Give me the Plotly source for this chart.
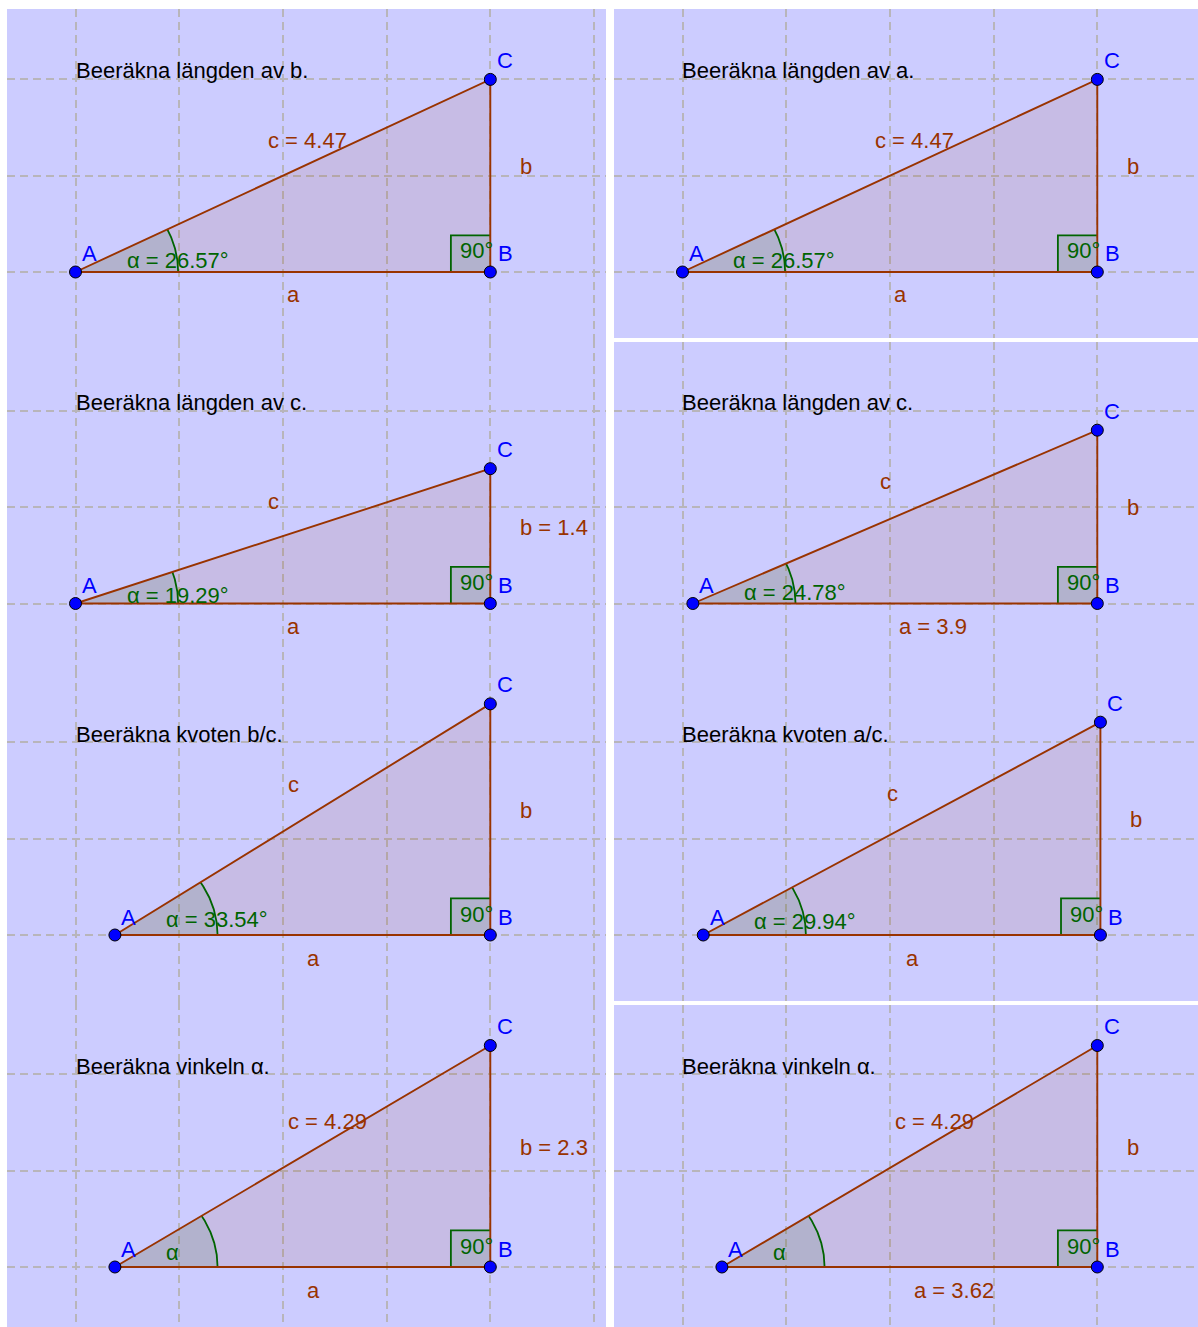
import numpy as np
import plotly.graph_objects as go

# ---------------- data (triangle measures, in grid units) ----------------
titles = ["Beeräkna längden av b.", "Beeräkna längden av c.", "Beeräkna kvoten b/c.",
          "Beeräkna vinkeln α.", "Beeräkna längden av a.", "Beeräkna längden av c.",
          "Beeräkna kvoten a/c.", "Beeräkna vinkeln α."]
b_vertex_x = [4, 4, 4, 4, 4, 4, 4.03, 4]          # x of vertex B
side_a = [4, 4, 3.62, 3.62, 4, 3.9, 3.83, 3.62]    # leg AB
side_b = [2, 1.4, 2.4, 2.3, 2, 1.8, 2.21, 2.3]     # leg BC
label_a = ["a", "a", "a", "a", "a", "a = 3.9", "a", "a = 3.62"]
label_b = ["b", "b = 1.4", "b", "b = 2.3", "b", "b", "b", "b"]
label_c = ["c = 4.47", "c", "c", "c = 4.29", "c = 4.47", "c", "c", "c = 4.29"]
label_alpha = ["α = 26.57°", "α = 19.29°", "α = 33.54°", "α",
               "α = 26.57°", "α = 24.78°", "α = 29.94°", "α"]
vertex_names = ["A", "B", "C"]
right_angle_text = "90°"

# ---------------- layout geometry (pixels) ----------------
W, H = 1198, 1327
PXX, PXY = 103.7, 96.3
col_left = (7, 606, 75.5)
col_right = (614, 1198, 682.5)
rows_left = [(9, 340, 272), (340, 670, 603.5), (670, 1002, 935), (1002, 1327, 1267)]
rows_right = [(9, 338, 272), (342, 670, 603.5), (670, 1001, 935), (1005, 1327, 1267)]
panels = [(col_left, r) for r in rows_left] + [(col_right, r) for r in rows_right]

BG = "#CCCCFF"
BROWN = "#993300"
GREEN = "#006400"
BLUE = "#0000FF"
FONT = "Liberation Sans, Arial, sans-serif"
FS = 22
ARC_R = 0.99
SQ = 0.38

fig = go.Figure()
layout = dict(width=W, height=H, margin=dict(l=0, r=0, t=0, b=0, pad=0),
              paper_bgcolor="white", plot_bgcolor=BG, showlegend=False,
              font=dict(family=FONT, size=FS))
annotations = []

for k, ((x0, x1, ox), (t, bm, oy)) in enumerate(panels, start=1):
    sfx = "" if k == 1 else str(k)
    xr, yr = "x" + sfx, "y" + sfx
    common = dict(showgrid=True, gridcolor="rgb(184,181,186)", gridwidth=1.6,
                  griddash="8px,5px",
                  dtick=1, tick0=0, zeroline=False, showticklabels=False, ticks="",
                  showline=False, fixedrange=True)
    layout["xaxis" + sfx] = dict(domain=[x0 / W, x1 / W],
                                 range=[(x0 - ox) / PXX, (x1 - ox) / PXX],
                                 anchor=yr, **common)
    layout["yaxis" + sfx] = dict(domain=[(H - bm) / H, (H - t) / H],
                                 range=[(oy - bm) / PXY, (oy - t) / PXY],
                                 anchor=xr, **common)

    i = k - 1
    bx = b_vertex_x[i]
    a = side_a[i]
    b = side_b[i]
    ax = bx - a
    theta = np.arctan2(b, a)
    px = [ax, bx, bx]
    py = [0, 0, b]

    # triangle fill
    fig.add_trace(go.Scatter(x=px + [ax], y=py + [0], xaxis=xr, yaxis=yr, mode="lines",
                             fill="toself", fillcolor="rgba(153,51,0,0.1)",
                             line=dict(width=0), hoverinfo="skip"))
    # angle sector
    ang = np.linspace(0, theta, 60)
    arcx = ax + ARC_R * np.cos(ang)
    arcy = ARC_R * np.sin(ang)
    fig.add_trace(go.Scatter(x=np.r_[ax, arcx, ax], y=np.r_[0, arcy, 0], xaxis=xr, yaxis=yr,
                             mode="lines", fill="toself", fillcolor="rgba(0,100,0,0.1)",
                             line=dict(width=0), hoverinfo="skip"))
    fig.add_trace(go.Scatter(x=arcx, y=arcy, xaxis=xr, yaxis=yr, mode="lines",
                             line=dict(color=GREEN, width=1.8), hoverinfo="skip"))
    # right angle square
    fig.add_trace(go.Scatter(x=[bx, bx - SQ, bx - SQ, bx, bx], y=[0, 0, SQ, SQ, 0],
                             xaxis=xr, yaxis=yr, mode="lines", fill="toself",
                             fillcolor="rgba(0,100,0,0.1)", line=dict(width=0),
                             hoverinfo="skip"))
    fig.add_trace(go.Scatter(x=[bx - SQ, bx - SQ, bx], y=[0, SQ, SQ], xaxis=xr, yaxis=yr,
                             mode="lines", line=dict(color=GREEN, width=1.8),
                             hoverinfo="skip"))
    # triangle edges
    fig.add_trace(go.Scatter(x=px + [ax], y=py + [0], xaxis=xr, yaxis=yr, mode="lines",
                             line=dict(color=BROWN, width=1.9), hoverinfo="skip"))
    # vertices
    fig.add_trace(go.Scatter(x=px, y=py, xaxis=xr, yaxis=yr, mode="markers",
                             marker=dict(size=12, color=BLUE, line=dict(color="black", width=1)),
                             hoverinfo="skip"))

    def ann(text, x, y, color, xanchor="left", xs=0, ys=0):
        annotations.append(dict(text=text, x=x, y=y, xref=xr, yref=yr, showarrow=False,
                                xanchor=xanchor, yanchor="middle", xshift=xs, yshift=ys,
                                font=dict(color=color, size=FS, family=FONT)))

    ann(titles[i], 0, 201 / PXY, "black", xs=-2)
    ann(label_c[i], (ax + bx) / 2, b / 2, BROWN, xs=-17, ys=35)
    ann(label_b[i], bx, b / 2, BROWN, xs=28, ys=9)
    ann(label_a[i], (ax + bx) / 2, 0, BROWN, xs=2, ys=-23)
    ann(label_alpha[i], ax, 0, GREEN, xs=49, ys=50 * np.tan(theta / 2))
    ann(right_angle_text, bx, 0, GREEN, xs=-32, ys=21)
    for name, vx, vy, dx, dy in zip(vertex_names, px, py, [14, 15, 15], [18, 18, 19]):
        ann(name, vx, vy, BLUE, xanchor="center", xs=dx, ys=dy)

layout["annotations"] = annotations
fig.update_layout(**layout)
fig.write_html("out.html", config={"displayModeBar": False},
               post_script="document.body.style.margin='0';")
